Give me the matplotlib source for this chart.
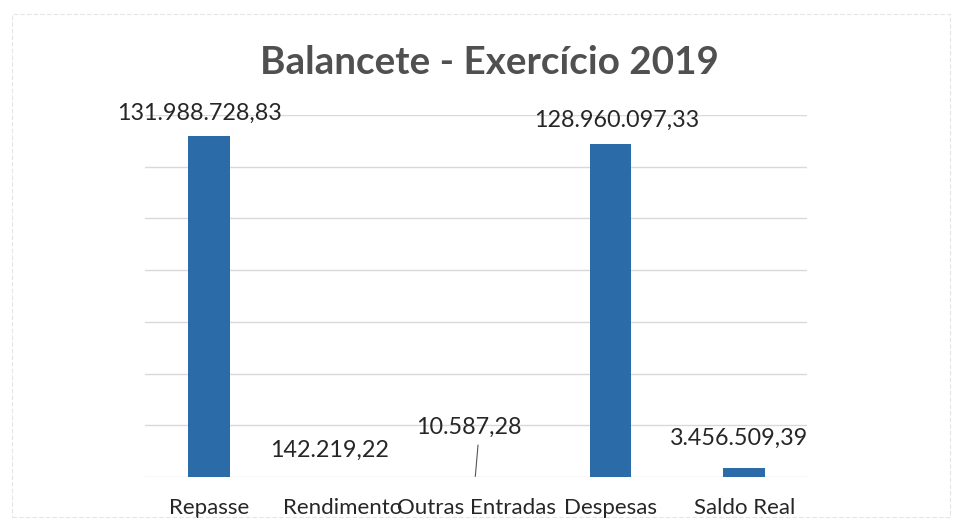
import numpy as np
import matplotlib.pyplot as plt
from matplotlib.patches import Rectangle

categorias = ['Repasse', 'Rendimento', 'Outras Entradas', 'Despesas', 'Saldo Real']
valores = [131988728.83, 142219.22, 10587.28, 128960097.33, 3456509.39]
rotulos = ['131.988.728,83', '142.219,22', '10.587,28', '128.960.097,33', '3.456.509,39']

# posicoes dos rotulos (movidos a mao no original), em unidades de categoria / milhoes
rot_x = [-0.07, 0.9, 1.94, 3.05, 3.96]
rot_y = [140.8, 10.4, 19.3, 138.1, 15.1]

plt.rcParams['font.family'] = ['Lato', 'DejaVu Sans']

W, H = 957, 520
fig = plt.figure(figsize=(W / 100, H / 100), dpi=100)
fig.patches.append(Rectangle((12 / W, 3 / H), 938 / W, 503 / H, transform=fig.transFigure,
                             fill=False, edgecolor='#E4E4E4', linewidth=0.8, linestyle=(0, (4, 2))))

ax = fig.add_axes([145 / W, 1 - 477 / H, 662 / W, 362 / H])
x = np.arange(len(categorias))
ax.bar(x, np.array(valores) / 1e6, width=0.31, color='#2B6CA8', zorder=3)

for i in range(len(categorias)):
    ax.text(rot_x[i], rot_y[i], rotulos[i], ha='center', va='center',
            fontsize=16.8, color='#262626', zorder=4)

# linha guia de "Outras Entradas"
ax.plot([1.99, 2.01], [valores[2] / 1e6 + 0.3, rot_y[2] - 7], color='#555555', linewidth=0.8, zorder=4)

ax.set_xlim(-0.48, 4.47)
ax.set_ylim(0, 140)
ax.set_yticks(np.arange(0, 141, 20))
ax.yaxis.grid(True, color='#D9D9D9', linewidth=1.0, zorder=0)
ax.set_yticklabels([])
ax.tick_params(axis='y', length=0)
ax.tick_params(axis='x', length=0, pad=15)
ax.set_xticks(x)
ax.set_xticklabels(categorias, fontsize=16, color='#262626')
for s in ax.spines.values():
    s.set_visible(False)

fig.text(489 / W, 1 - 62 / H, 'Balancete - Exercício 2019', ha='center', va='center',
         fontsize=27.8, fontweight='bold', color='#505050')

fig.savefig('out.png', dpi=100)
